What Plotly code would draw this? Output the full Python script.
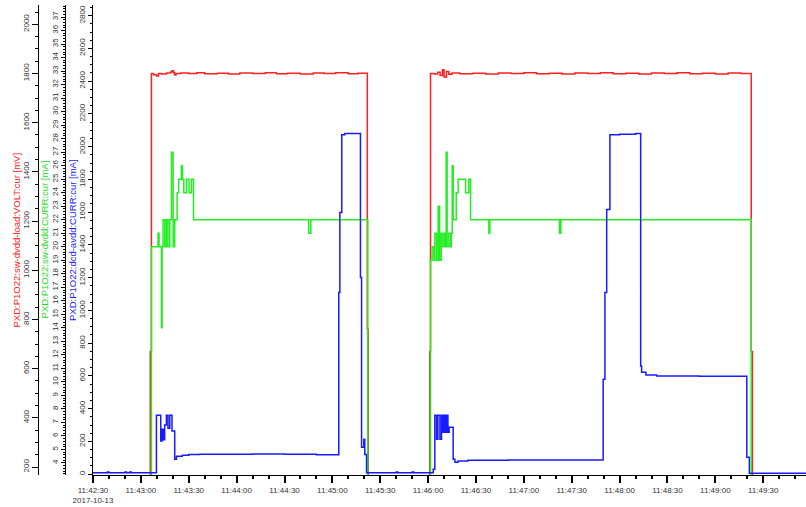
import pandas as pd
import plotly.graph_objects as go

START = pd.Timestamp("2017-10-13 11:42:30")

# seconds after 11:42:30 and values
red_t = [0, 35.9, 36.6, 38, 39.7, 41, 43, 46, 48.5, 49.5, 50.5, 51.2, 52, 55, 60, 65, 70, 78, 85, 92,
         100, 108, 115, 122, 130, 138, 145, 152, 160, 166, 171.9, 172.5,
         211.0, 211.5, 214, 216, 217.5, 219, 220, 221.5, 223, 225, 230, 238, 246, 254, 262, 270, 278,
         286, 294, 302, 310, 318, 326, 334, 342, 350, 358, 366, 374, 382, 390, 398, 406, 412.5, 413.2, 446.8]
red_v = [0, 670, 1800, 1795, 1790, 1800, 1798, 1802, 1806, 1811, 1803, 1794, 1800, 1802, 1800, 1803, 1799, 1801, 1798, 1802,
         1800, 1803, 1799, 1801, 1798, 1802, 1800, 1803, 1799, 1801, 760, 0,
         670, 1800, 1798, 1805, 1792, 1815, 1786, 1808, 1797, 1802, 1799, 1801, 1798, 1802, 1800, 1803, 1799,
         1801, 1798, 1802, 1800, 1803, 1799, 1801, 1798, 1802, 1800, 1803, 1799, 1801, 1798, 1802, 1800, 670, 0, 0]

green_t = [0, 36.6, 40.75, 41.4, 42.9, 43.3, 43.9, 45.0, 46.0, 47.0, 48.1, 49.15, 50.2, 51.2, 52.7, 53.7,
           55.4, 56.05, 56.9, 58.6, 60.2, 61.7, 63.0, 135.2, 136.5, 172.2,
           211.5, 212.5, 213.6, 214.2, 215.3, 216.3, 217.2, 218.2, 218.8, 219.9, 220.5, 221.3, 221.9,
           223.0, 224.1, 224.5, 225.1, 225.7, 227.6, 228.8, 233.5, 235.5, 236.6, 248.1, 248.7,
           292.3, 293.2, 412.5, 446.8]
green_v = [0, 20, 21, 20, 14, 20, 22, 20, 22, 20, 22, 27, 20, 22, 24, 25,
           26, 25, 24, 25, 24, 25, 22, 21, 22, 0,
           19, 20, 19, 21, 19, 23, 19, 21, 20, 21, 20, 27, 20,
           21, 20, 21, 26, 22, 24, 25, 24, 25, 22, 21, 22,
           21, 22, 0, 0]

blue_t = [0, 9, 10, 20, 21, 23, 24, 39.75, 42.45, 43.3, 44.0, 44.9, 46.0, 47.0, 48.1, 49.5, 51.2, 52.3,
          56, 60, 66.9, 80, 100, 120, 140, 152.6, 154.0, 154.7, 155.9, 157.8, 167.6, 168.0, 168.3, 169.7,
          170.3, 171.4, 190, 191, 200, 201,
          213.2, 214.2, 215.3, 216.1, 217.4, 218.4, 219.2, 220.1, 220.9, 221.8, 222.4, 223.2, 225.7,
          226.8, 228.7, 235, 260, 290, 319.7, 320.8, 321.9, 323.9, 330, 340, 343.2, 343.8, 346.5,
          353.2, 380, 409.7, 411.3, 446.8]
blue_v = [8, 14, 8, 14, 8, 14, 8, 360, 203, 275, 210, 300, 360, 280, 360, 264, 91, 110,
          115, 120, 122, 121, 123, 121, 119, 118, 1110, 1598, 2073, 2080, 1201, 1201, 165, 213,
          120, 8, 14, 8, 14, 8,
          30, 360, 213, 360, 213, 360, 256, 360, 256, 360, 256, 287, 91,
          73, 81, 85, 86, 86, 579, 1110, 1616, 2073, 2076, 2080, 660, 622, 605,
          600, 598, 104, 5, 8]

red_title = "PXD:P1O22:sw-dvdd-load:VOLT:cur [mV]"
green_title = "PXD:P1O22:sw-dvdd:CURR:cur [mA]"
blue_title = "PXD:P1O22:dcd-avdd:CURR:cur [mA]"
tick_secs = list(range(0, 421, 30))
date_label = "2017-10-13"

RED, GREEN, BLUE = "#ff2020", "#22ee22", "#1a1aff"


def ts(secs):
    return [START + pd.to_timedelta(s, unit="s") for s in secs]


fig = go.Figure()
fig.add_trace(go.Scatter(x=ts(red_t), y=red_v, mode="lines", line=dict(color=RED, width=1.5, shape="hv"),
                         yaxis="y", name=red_title))
fig.add_trace(go.Scatter(x=ts(green_t), y=green_v, mode="lines", line=dict(color=GREEN, width=1.5, shape="hv"),
                         yaxis="y2", name=green_title))
fig.add_trace(go.Scatter(x=ts(blue_t), y=blue_v, mode="lines", line=dict(color=BLUE, width=1.5, shape="hv"),
                         yaxis="y3", name=blue_title))

tvals = ts(tick_secs)
ttext = [t.strftime("%H:%M:%S") for t in tvals]
ttext[0] = ttext[0] + "<br>" + date_label

FONT = "Liberation Sans, Arial, sans-serif"
tickfont = dict(size=8, family=FONT, color="#333333")

common_y = dict(showline=True, linecolor="#000000", linewidth=1, showgrid=False, zeroline=False,
                ticks="outside", tickcolor="#000000", tickangle=-90, tickfont=tickfont, automargin=False)

fig.update_layout(
    width=806, height=507,
    margin=dict(l=0, r=0, t=5, b=32, autoexpand=False),
    paper_bgcolor="white", plot_bgcolor="white",
    showlegend=False,
    font=dict(family=FONT),
    xaxis=dict(domain=[93 / 806, 1], type="date", automargin=False,
               range=[START, START + pd.to_timedelta(446.8, unit="s")],
               tickmode="array", tickvals=tvals, ticktext=ttext,
               ticks="outside", ticklen=7, tickwidth=2, tickcolor="#000000",
               showline=True, linecolor="#000000", linewidth=1, showgrid=False, zeroline=False,
               tickfont=tickfont,
               minor=dict(dtick=10000, tick0=START, ticks="outside", ticklen=3, tickcolor="#000000",
                          showgrid=False)),
    yaxis=dict(common_y, anchor="free", position=37.7 / 806, range=[167.5, 2078.5],
               tick0=0, dtick=200, ticklen=6,
               minor=dict(dtick=50, ticks="outside", ticklen=3, tickcolor="#000000", showgrid=False)),
    yaxis2=dict(common_y, overlaying="y", anchor="free", position=65 / 806, range=[3.11, 37.89],
                tick0=0, dtick=1, ticklen=4,
                minor=dict(dtick=0.2, ticks="outside", ticklen=2, tickcolor="#000000", showgrid=False)),
    yaxis3=dict(common_y, overlaying="y", anchor="x", side="left", range=[-5, 2865],
                tick0=0, dtick=200, ticklen=4,
                minor=dict(dtick=50, ticks="outside", ticklen=2, tickcolor="#000000", showgrid=False)),
)

for text, xpix, col in [(red_title, 15.5, RED), (green_title, 43.5, "#22dd22"), (blue_title, 72, BLUE)]:
    fig.add_annotation(text=text, xref="paper", yref="paper", x=xpix / 806, y=0.5,
                       xanchor="center", yanchor="middle", textangle=-90, showarrow=False,
                       font=dict(size=9.5, color=col, family=FONT))

fig.write_html("out.html")
